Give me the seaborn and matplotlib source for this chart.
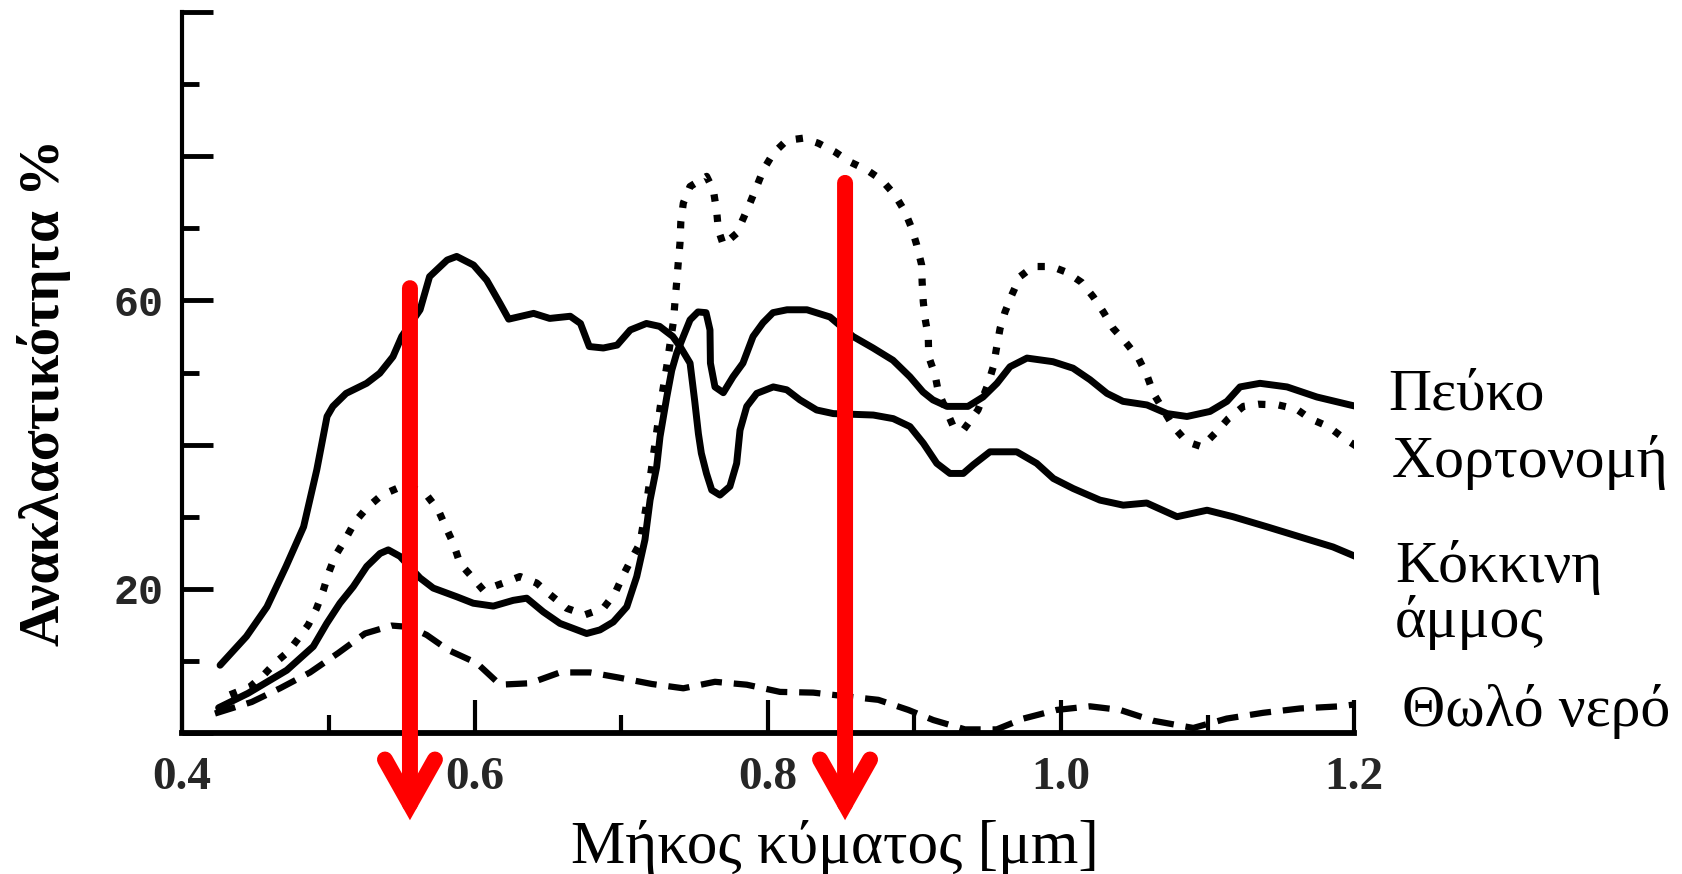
import matplotlib
matplotlib.use("Agg")
import matplotlib.pyplot as plt
from matplotlib.patches import FancyArrowPatch, ArrowStyle
from matplotlib.ticker import FixedLocator, FixedFormatter
import pandas as pd
import seaborn as sns

# ---------------- data (wavelength in µm, reflectance in %) ----------------
pine_wl = [0.425, 0.445, 0.4715, 0.4896, 0.4988, 0.5078, 0.5169, 0.5261, 0.5352, 0.5408,
           0.5488, 0.5625, 0.5715, 0.5875, 0.5988, 0.6125, 0.6261, 0.6353, 0.6466, 0.658,
           0.6762, 0.6853, 0.6944, 0.7036, 0.7104, 0.716, 0.7195, 0.724, 0.7263, 0.7309,
           0.7343, 0.7377, 0.7422, 0.7468, 0.7522, 0.7577, 0.7604, 0.7607, 0.7638, 0.7695,
           0.7761, 0.7829, 0.7898, 0.7966, 0.8034, 0.813, 0.8266, 0.8423, 0.858, 0.8717,
           0.8853, 0.8969, 0.9058, 0.9126, 0.9222, 0.9365, 0.9468, 0.9563, 0.9652, 0.9768,
           0.9945, 1.0082, 1.0198, 1.0314, 1.0423, 1.0587, 1.0724, 1.086, 1.1017, 1.1133,
           1.1222, 1.1358, 1.1543, 1.1747, 1.1973, 1.2123]
pine_refl = [3.5, 5.5, 8.7, 12.0, 15.2, 18.0, 20.3, 23.1, 24.9, 25.4,
             24.5, 21.5, 20.1, 18.9, 18.0, 17.6, 18.4, 18.7, 16.8, 15.2,
             13.8, 14.3, 15.4, 17.5, 21.7, 26.8, 32.3, 36.9, 41.1, 46.6,
             50.3, 52.7, 55.0, 57.3, 58.4, 58.3, 55.9, 51.3, 48.0, 47.2,
             49.4, 51.3, 55.0, 56.9, 58.3, 58.7, 58.7, 57.7, 55.0, 53.4,
             51.7, 49.4, 47.3, 46.2, 45.3, 45.3, 46.6, 48.5, 50.8, 52.0,
             51.5, 50.6, 49.0, 47.1, 46.0, 45.5, 44.3, 43.9, 44.6, 46.0,
             48.0, 48.5, 48.0, 46.6, 45.5, 44.8]

grass_wl = [0.4328, 0.4464, 0.4555, 0.4635, 0.4726, 0.4794, 0.4862, 0.4919, 0.4965, 0.4999,
            0.5044, 0.5113, 0.5181, 0.5261, 0.5363, 0.5488, 0.5577, 0.567, 0.575, 0.5795,
            0.5852, 0.5898, 0.5977, 0.6057, 0.6193, 0.6307, 0.6421, 0.65, 0.6626, 0.6751,
            0.6876, 0.6956, 0.7012, 0.707, 0.7126, 0.7165, 0.72, 0.7235, 0.727, 0.731,
            0.7335, 0.7354, 0.7365, 0.7377, 0.7388, 0.7399, 0.7405, 0.7422, 0.7468, 0.7581,
            0.7627, 0.765, 0.7661, 0.7695, 0.7786, 0.7832, 0.7877, 0.7923, 0.7968, 0.8036,
            0.8128, 0.8241, 0.8343, 0.8457, 0.856, 0.8674, 0.8776, 0.8867, 0.8935, 0.8981,
            0.9015, 0.9049, 0.9052, 0.906, 0.9072, 0.9094, 0.9097, 0.914, 0.9163, 0.9265,
            0.9333, 0.9433, 0.95, 0.9538, 0.956, 0.9584, 0.9618, 0.9663, 0.972, 0.9811,
            0.9937, 1.0039, 1.0141, 1.022, 1.0289, 1.0357, 1.0437, 1.0528, 1.0585, 1.0631,
            1.0767, 1.0858, 1.0961, 1.1063, 1.1142, 1.1245, 1.1347, 1.1484, 1.1609, 1.17,
            1.1825, 1.1916, 1.2029, 1.2143, 1.2212]
grass_refl = [5.3, 6.4, 8.0, 9.7, 11.3, 13.1, 15.0, 17.3, 19.8, 22.1,
              24.5, 26.8, 29.3, 31.2, 33.0, 34.1, 34.0, 33.0, 30.9, 28.8,
              26.3, 23.5, 21.7, 19.8, 20.8, 21.7, 20.8, 19.4, 17.3, 16.4,
              17.3, 19.4, 21.9, 24.2, 26.3, 31.0, 36.0, 41.0, 46.0, 51.0,
              54.5, 57.0, 59.8, 62.6, 65.4, 67.9, 70.9, 73.5, 75.8, 77.2,
              75.3, 72.3, 69.8, 67.7, 69.3, 71.4, 73.5, 75.8, 78.1, 80.4,
              82.2, 82.5, 81.8, 80.6, 79.2, 78.1, 76.7, 74.6, 72.3, 70.0,
              67.7, 64.9, 62.6, 59.8, 57.5, 55.0, 52.2, 49.7, 47.3, 42.5,
              42.0, 44.8, 48.3, 50.8, 53.4, 56.1, 58.4, 60.7, 63.3, 64.7,
              64.7, 63.9, 62.5, 60.5, 58.4, 56.1, 54.3, 52.0, 49.7, 47.1,
              42.5, 40.4, 39.7, 41.8, 43.6, 45.3, 45.6, 45.5, 44.9, 43.6,
              42.5, 41.1, 39.6, 38.8, 38.4]

sand_wl = [0.426, 0.444, 0.458, 0.471, 0.483, 0.492, 0.499, 0.503, 0.512, 0.526,
           0.535, 0.544, 0.550, 0.5625, 0.569, 0.581, 0.5875, 0.599, 0.608, 0.617,
           0.623, 0.640, 0.651, 0.665, 0.672, 0.678, 0.6876, 0.697, 0.706, 0.717,
           0.726, 0.735, 0.740, 0.7468, 0.750, 0.7525, 0.7545, 0.758, 0.7616, 0.7672,
           0.774, 0.7786, 0.7809, 0.7855, 0.7923, 0.8036, 0.8128, 0.8218, 0.8332, 0.8446,
           0.8719, 0.8855, 0.8969, 0.906, 0.9152, 0.9242, 0.9333, 0.9401, 0.9515, 0.9698,
           0.9834, 0.9948, 1.0084, 1.0266, 1.0425, 1.0585, 1.0792, 1.0997, 1.1174, 1.1406,
           1.1631, 1.1857, 1.2137]
sand_refl = [9.4, 13.4, 17.5, 23.1, 28.6, 36.5, 43.9, 45.3, 47.1, 48.5,
             49.9, 52.2, 55.0, 58.7, 63.3, 65.6, 66.1, 64.9, 62.8, 59.6,
             57.4, 58.2, 57.5, 57.8, 56.8, 53.6, 53.4, 53.8, 55.9, 56.8,
             56.4, 55.0, 53.6, 51.3, 46.0, 41.5, 38.8, 36.0, 33.7, 33.0,
             34.2, 37.4, 42.0, 45.3, 47.1, 48.0, 47.6, 46.2, 44.8, 44.3,
             44.1, 43.6, 42.5, 40.2, 37.4, 36.0, 36.0, 37.2, 39.0, 39.0,
             37.4, 35.3, 33.9, 32.3, 31.6, 31.9, 30.0, 30.9, 30.0, 28.6,
             27.2, 25.8, 23.4]

water_wl = [0.4225, 0.4476, 0.4669, 0.4874, 0.5067, 0.5249, 0.5431, 0.5556, 0.567, 0.5818,
            0.6012, 0.6171, 0.6375, 0.658, 0.6785, 0.6978, 0.7206, 0.7422, 0.7638, 0.7855,
            0.8082, 0.8309, 0.8526, 0.8753, 0.8958, 0.9128, 0.9345, 0.9561, 0.9743, 0.9971,
            1.0198, 1.0403, 1.063, 1.0903, 1.1131, 1.138, 1.1631, 1.1904, 1.2096]
water_refl = [2.7, 4.3, 6.2, 8.4, 11.1, 13.8, 14.9, 14.7, 13.6, 11.5,
              9.7, 6.7, 6.9, 8.4, 8.4, 7.7, 6.8, 6.2, 7.1, 6.7,
              5.7, 5.6, 5.1, 4.6, 3.2, 1.8, 0.5, 0.5, 2.0, 3.2,
              3.7, 3.2, 1.7, 0.7, 2.0, 2.8, 3.4, 3.7, 4.2]

x_major_ticks = [0.4, 0.6, 0.8, 1.0, 1.2]
x_tick_labels = ["0.4", "0.6", "0.8", "1.0", "1.2"]
x_minor_ticks = [0.5, 0.7, 0.9, 1.1]
y_major_ticks = [0, 20, 40, 60, 80, 100]
y_tick_labels = ["", "20", "", "60", "", ""]
y_minor_ticks = [10, 30, 50, 70, 90]

label_pine = "Πεύκο"
label_grass = "Χορτονομή"
label_sand = "Κόκκινη\nάμμος"
label_water = "Θωλό νερό"
x_title = "Μήκος κύματος [μm]"
y_title = "Ανακλαστικότητα %"

arrow_wl = [0.5556, 0.8526]     # highlighted wavelengths
arrow_top = [62.7, 77.3]

# ---------------- drawing ----------------
sns.set_style("ticks")
plt.rcParams["font.family"] = ["Liberation Serif", "DejaVu Serif"]

fig = plt.figure(figsize=(16.83, 8.74), dpi=100)
fig.patch.set_facecolor("white")
ax = fig.add_axes([182 / 1683, 141 / 874, 1172 / 1683, 721 / 874])
ax.set_facecolor("white")

series = [
    (pine_wl, pine_refl, "solid"),
    (grass_wl, grass_refl, "dotted"),
    (sand_wl, sand_refl, "solid"),
    (water_wl, water_refl, "dashed"),
]
style_map = {
    "solid": (5.0, "-"),
    "dotted": (5.2, (0, (1.0, 1.85))),
    "dashed": (4.5, (0, (3.4, 1.9))),
}
for wl, refl, st in series:
    df = pd.DataFrame({"wl": wl, "refl": refl})
    sns.lineplot(data=df, x="wl", y="refl", ax=ax, color="black",
                 estimator=None, sort=False, legend=False)
    line = ax.get_lines()[-1]
    lw, ls = style_map[st]
    line.set_linewidth(lw)
    line.set_linestyle(ls)
    line.set_dash_capstyle("butt")
    line.set_solid_capstyle("round")
    line.set_solid_joinstyle("round")

# arrows
for xw, top in zip(arrow_wl, arrow_top):
    arr = FancyArrowPatch(posA=(xw, top - 1.0), posB=(xw, -12.1),
                          arrowstyle=ArrowStyle("->", head_length=32, head_width=18),
                          mutation_scale=1, color="#ff0000", lw=11.5,
                          capstyle="round", joinstyle="miter",
                          shrinkA=0, shrinkB=0, zorder=10, clip_on=False)
    ax.add_patch(arr)

ax.set_xlim(0.4, 1.2)
ax.set_ylim(0, 100)

# spines
sns.despine(ax=ax)
ax.spines["left"].set_linewidth(3.0)
ax.spines["bottom"].set_linewidth(4.2)
ax.spines["left"].set_color("black")
ax.spines["bottom"].set_color("black")

# ticks
ax.xaxis.set_major_locator(FixedLocator(x_major_ticks))
ax.xaxis.set_major_formatter(FixedFormatter(x_tick_labels))
ax.xaxis.set_minor_locator(FixedLocator(x_minor_ticks))
ax.yaxis.set_major_locator(FixedLocator(y_major_ticks))
ax.yaxis.set_major_formatter(FixedFormatter(y_tick_labels))
ax.yaxis.set_minor_locator(FixedLocator(y_minor_ticks))

ax.tick_params(axis="x", which="major", direction="in", length=24, width=3,
               color="black", pad=17, labelsize=34, bottom=True)
ax.tick_params(axis="x", which="minor", direction="in", length=13, width=3,
               color="black", bottom=True)
ax.tick_params(axis="y", which="major", direction="in", length=22, width=3.5,
               color="black", pad=13, labelsize=30, left=True)
ax.tick_params(axis="y", which="minor", direction="in", length=12, width=3.5,
               color="black", left=True)
for t in ax.get_xticklabels():
    t.set_family("Liberation Serif")
    t.set_fontweight("bold")
for t in ax.get_yticklabels():
    t.set_family("Liberation Mono")
    t.set_fontweight("bold")

# axis titles
ax.set_xlabel(x_title, fontsize=44, color="black")
ax.xaxis.set_label_coords(0.557, -0.1595)
ax.xaxis.label.set_va("center")
ax.set_ylabel(y_title, fontsize=41, fontweight="bold", color="black")
ax.yaxis.set_label_coords(-0.1177, 0.473)
ax.yaxis.label.set_va("center")

# curve labels on the right
txt_kw = dict(fontsize=43, ha="left", va="baseline", color="black", clip_on=False)
ax.text(1.2232, 44.8, label_pine, **txt_kw)
ax.text(1.2260, 35.5, label_grass, **txt_kw)
ax.text(1.2280, 13.3, label_sand, linespacing=1.0, **txt_kw)
ax.text(1.2328, 1.0, label_water, **txt_kw)

fig.savefig("out.png", dpi=100, facecolor="white")
